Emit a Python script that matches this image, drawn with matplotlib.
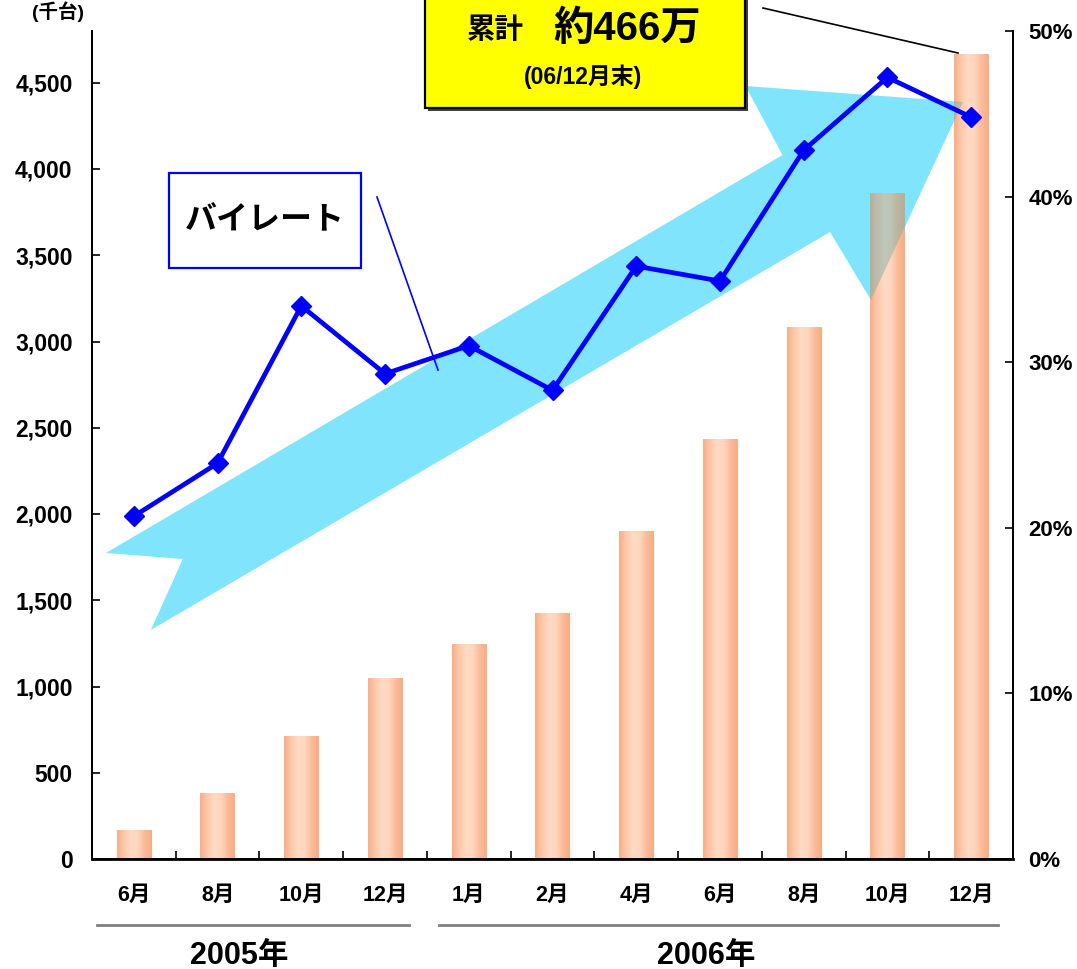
import numpy as np
import matplotlib
matplotlib.use("Agg")
from matplotlib import pyplot as plt
from matplotlib.patches import Polygon, Rectangle
from matplotlib.colors import LinearSegmentedColormap
from matplotlib.lines import Line2D
from matplotlib.ticker import FuncFormatter, MultipleLocator, FixedLocator

# data
months = ["6月", "8月", "10月", "12月", "1月", "2月", "4月", "6月", "8月", "10月", "12月"]
years = ["2005年", "2006年"]
cumulative = [168, 383, 713, 1050, 1247, 1427, 1902, 2436, 3085, 3862, 4668]   # 千台
bi_rate = [20.7, 23.9, 33.4, 29.3, 31.0, 28.3, 35.8, 34.9, 42.8, 47.2, 44.8]    # %

W, H = 1077, 969
FONT = ["Liberation Sans", "Noto Sans CJK JP", "DejaVu Sans"]
plt.rcParams["font.family"] = FONT
plt.rcParams["font.weight"] = "bold"


def fx(px):
    return px / W


def fy(py):
    return 1 - py / H


fig = plt.figure(figsize=(W / 100, H / 100), dpi=100)
ax = fig.add_axes([fx(92), fy(859), fx(1013) - fx(92), fy(31) - fy(859)])
ax2 = ax.twinx()

x = np.arange(len(months))

# bars with a horizontal gradient
bars = ax.bar(x, cumulative, width=0.41, color="none", edgecolor="none", zorder=2)
peach = LinearSegmentedColormap.from_list(
    "peach", ["#F9AE86", "#FDC9AA", "#FFDAC4", "#FFD6BE", "#FBBB98", "#F8AC84"])
grad = np.linspace(0, 1, 64).reshape(1, -1)
for rect in bars:
    im = ax.imshow(grad, cmap=peach, aspect="auto", zorder=2,
                   extent=(rect.get_x(), rect.get_x() + rect.get_width(), 0, rect.get_height()))
    im.set_clip_path(rect)

# big light-blue arrow (decoration, axes fraction)
arrow_pts = [(0.0152, 0.3696), (0.7497, 0.8502), (0.7096, 0.9336), (0.9457, 0.9143),
             (0.8458, 0.6751), (0.8013, 0.7572), (0.0639, 0.2766), (0.0986, 0.3623)]
ax.add_patch(Polygon(arrow_pts, closed=True, transform=ax.transAxes,
                     facecolor="#80E5FC", edgecolor="none", zorder=1))
for rect in bars:
    shade = Polygon(arrow_pts, closed=True, transform=ax.transAxes,
                    facecolor="#6EAFAA", edgecolor="none", alpha=0.45, zorder=3)
    ax.add_patch(shade)
    shade.set_clip_path(rect)

ax.set_xlim(-0.5, len(months) - 0.5)
ax.set_ylim(0, 4800)
ax2.set_ylim(0, 50)

ax2.plot(x, bi_rate, color="#0000FF", lw=3.4, marker="D", ms=10, zorder=5)

# axes styling
for a in (ax, ax2):
    a.spines["top"].set_visible(False)
    for s in ("left", "right", "bottom"):
        a.spines[s].set_linewidth(1.4)
ax.spines["bottom"].set_linewidth(2)

ax.yaxis.set_major_locator(MultipleLocator(500))
ax.yaxis.set_major_formatter(FuncFormatter(lambda v, p: f"{int(v):,}"))
ax.tick_params(axis="y", direction="in", length=6, width=1.2, pad=14, labelsize=16.5)
ax2.yaxis.set_major_locator(MultipleLocator(10))
ax2.yaxis.set_major_formatter(FuncFormatter(lambda v, p: f"{int(v)}%"))
ax2.tick_params(axis="y", direction="in", length=6, width=1.2, pad=11, labelsize=16)

ax.set_xticks(x)
ax.set_xticklabels(months)
ax.xaxis.set_minor_locator(FixedLocator(np.arange(0.5, len(months) - 1, 1)))
ax.tick_params(axis="x", which="major", length=0, pad=19, labelsize=15.5)
ax.tick_params(axis="x", which="minor", direction="in", length=6, width=1.2)

# year groups under the month labels
tr = ax.get_xaxis_transform()
for (x0, x1), xc, yr in zip([(-0.44, 3.29), (3.65, 10.32)], [1.26, 6.83], years):
    ax.add_line(Line2D([x0, x1], [-0.080, -0.080], transform=tr, color="#808080",
                       lw=2, clip_on=False))
    ax.text(xc, -0.117, yr, transform=tr, ha="center", va="center", fontsize=22,
            fontweight="bold", clip_on=False)

# unit label at the top left
fig.text(fx(58), fy(12), "(千台)", ha="center", va="center", fontsize=14, fontweight="bold")

# callout box: cumulative total
fig.patches.append(Rectangle((fx(428), fy(111)), fx(320), fy(-20) - fy(111),
                             transform=fig.transFigure, facecolor="#404040",
                             edgecolor="none", zorder=6))
fig.patches.append(Rectangle((fx(425), fy(108)), fx(320), fy(-20) - fy(108),
                             transform=fig.transFigure, facecolor="#FFFF00",
                             edgecolor="black", lw=1.6, zorder=7))
fig.text(fx(495), fy(31), "累計", ha="center", va="center", fontsize=20.5,
         fontweight="bold", zorder=8)
fig.text(fx(627), fy(29), "約466万", ha="center", va="center", fontsize=29,
         fontweight="bold", zorder=8)
fig.text(fx(583), fy(77), "(06/12月末)", ha="center", va="center", fontsize=16.5,
         fontweight="bold", zorder=8)
fig.add_artist(Line2D([fx(763), fx(958)], [fy(8), fy(53)], color="black", lw=1.2,
                      zorder=8))

# バイレート label box
fig.patches.append(Rectangle((fx(169), fy(268)), fx(192), fy(173) - fy(268),
                             transform=fig.transFigure, facecolor="white",
                             edgecolor="#0000FF", lw=1.6, zorder=7))
fig.text(fx(265), fy(221), "バイレート", ha="center", va="center", fontsize=23,
         fontweight="bold", zorder=8)
fig.add_artist(Line2D([fx(377), fx(438)], [fy(197), fy(370)], color="#0000FF", lw=1.2,
                      zorder=8))

fig.savefig("out.png", dpi=100)
